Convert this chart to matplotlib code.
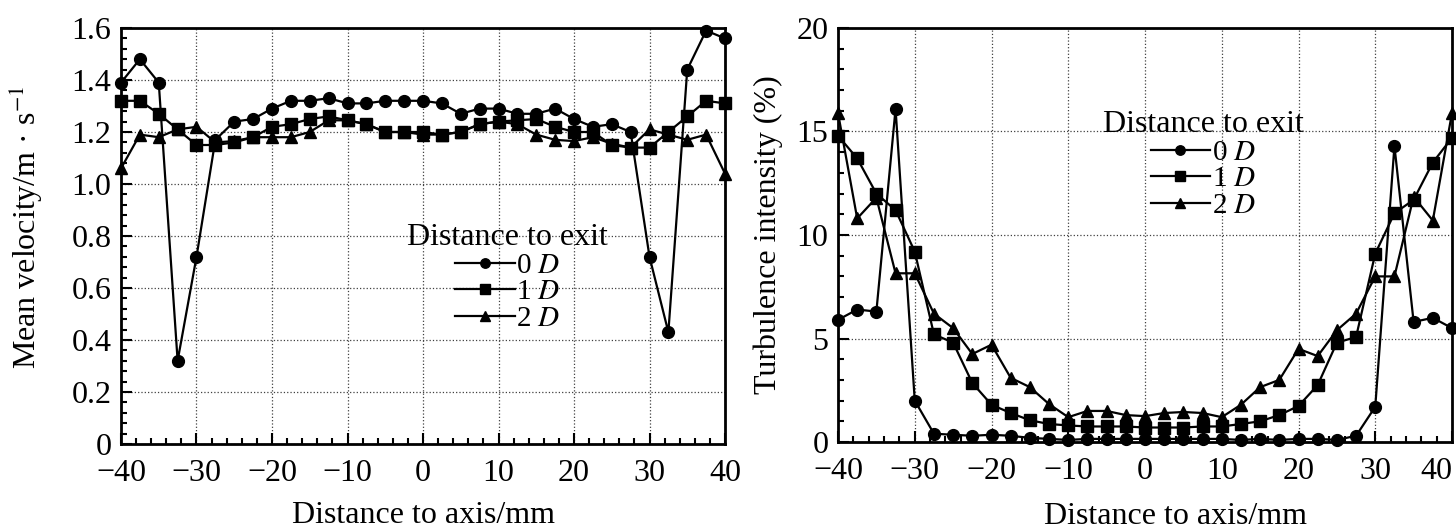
import matplotlib
matplotlib.use("Agg")
import matplotlib.pyplot as plt
from matplotlib.ticker import MultipleLocator

plt.rcParams['font.family'] = ['Liberation Serif', 'DejaVu Serif']
plt.rcParams['mathtext.fontset'] = 'stix'

# distance to axis (mm), same stations for both panels
x_mm = [-40, -37.5, -35, -32.5, -30, -27.5, -25, -22.5, -20, -17.5, -15, -12.5,
        -10, -7.5, -5, -2.5, 0, 2.5, 5, 7.5, 10, 12.5, 15, 17.5, 20, 22.5,
        25, 27.5, 30, 32.5, 35, 37.5, 40]

# mean velocity, m/s
vel_0D = [1.39, 1.48, 1.39, 0.32, 0.72, 1.17, 1.24, 1.25, 1.29, 1.32, 1.32, 1.33,
          1.31, 1.31, 1.32, 1.32, 1.32, 1.31, 1.27, 1.29, 1.29, 1.27, 1.27, 1.29,
          1.25, 1.22, 1.23, 1.20, 0.72, 0.43, 1.44, 1.59, 1.56]
vel_1D = [1.32, 1.32, 1.27, 1.21, 1.15, 1.15, 1.16, 1.18, 1.22, 1.23, 1.25, 1.26,
          1.245, 1.23, 1.20, 1.20, 1.20, 1.19, 1.20, 1.23, 1.24, 1.245, 1.25, 1.22,
          1.20, 1.20, 1.15, 1.14, 1.14, 1.20, 1.26, 1.32, 1.31]
vel_2D = [1.06, 1.19, 1.18, 1.21, 1.22, 1.16, 1.165, 1.18, 1.18, 1.18, 1.20, 1.245,
          1.245, 1.23, 1.20, 1.20, 1.19, 1.19, 1.20, 1.23, 1.24, 1.23, 1.19, 1.17,
          1.165, 1.18, 1.155, 1.14, 1.21, 1.19, 1.17, 1.19, 1.04]

# turbulence intensity, %
ti_0D = [5.9, 6.4, 6.3, 16.1, 2.0, 0.4, 0.35, 0.3, 0.35, 0.3, 0.2, 0.15,
         0.1, 0.15, 0.15, 0.15, 0.15, 0.15, 0.15, 0.15, 0.15, 0.1, 0.15, 0.1,
         0.15, 0.15, 0.1, 0.3, 1.7, 14.3, 5.8, 6.0, 5.5]
ti_1D = [14.8, 13.7, 12.0, 11.2, 9.2, 5.2, 4.8, 2.85, 1.8, 1.4, 1.05, 0.87,
         0.8, 0.75, 0.75, 0.75, 0.7, 0.7, 0.7, 0.75, 0.75, 0.87, 1.0, 1.3,
         1.74, 2.75, 4.8, 5.07, 9.1, 11.05, 11.7, 13.5, 14.7]
ti_2D = [15.9, 10.8, 11.8, 8.15, 8.15, 6.2, 5.5, 4.25, 4.7, 3.1, 2.65, 1.83,
         1.2, 1.5, 1.5, 1.3, 1.25, 1.4, 1.45, 1.4, 1.2, 1.8, 2.65, 3.0,
         4.5, 4.15, 5.4, 6.2, 8.0, 8.0, 11.85, 10.7, 15.9]

labels = ['0 $D$', '1 $D$', '2 $D$']
markers = ['o', 's', '^']
x_ticks = [-40, -30, -20, -10, 0, 10, 20, 30, 40]
x_ticklabels = ['\u221240', '\u221230', '\u221220', '\u221210', '0', '10', '20', '30', '40']
FS = 23


def style_axes(ax):
    for sp in ax.spines.values():
        sp.set_linewidth(2.0)
    ax.tick_params(which='both', direction='in', top=False, right=False,
                   labelsize=FS, width=1.5)
    ax.tick_params(which='major', length=8, pad=7)
    ax.tick_params(axis='x', which='major', pad=11)
    ax.tick_params(which='minor', length=4.5)
    ax.grid(True, which='major', linestyle=':', linewidth=0.9, color='0.25')
    ax.set_axisbelow(True)
    # keep the y "0" just clear of the first x label
    ax.get_yticklabels()[0].set_verticalalignment('center_baseline')


def draw_series(ax, series):
    for ys, m, lab in zip(series, markers, labels):
        ax.plot(x_mm, ys, color='black', linewidth=1.6, marker=m,
                markersize=8.5, label=lab, clip_on=False, zorder=3)


def add_legend(ax, anchor):
    ax.legend(title='Distance to exit', loc='center', bbox_to_anchor=anchor,
              frameon=False, fontsize=21, title_fontsize=FS, handlelength=2.05,
              handletextpad=0.05, labelspacing=0.0, borderpad=0, borderaxespad=0,
              markerscale=0.8)


fig = plt.figure(figsize=(14.56, 5.30), dpi=100)
ax1 = fig.add_axes([121/1456, 1-444/530, 604/1456, 416/530])
ax2 = fig.add_axes([838/1456, 1-442/530, 614/1456, 414/530])

# left panel: mean velocity
draw_series(ax1, [vel_0D, vel_1D, vel_2D])
ax1.set_xlim(-40, 40)
ax1.set_ylim(0, 1.6)
ax1.xaxis.set_minor_locator(MultipleLocator(2))
ax1.yaxis.set_minor_locator(MultipleLocator(0.04))
ax1.set_yticks([0, 0.2, 0.4, 0.6, 0.8, 1.0, 1.2, 1.4, 1.6],
               ['0', '0.2', '0.4', '0.6', '0.8', '1.0', '1.2', '1.4', '1.6'])
ax1.set_xticks(x_ticks, x_ticklabels)
style_axes(ax1)
ax1.set_xlabel('Distance to axis/mm', fontsize=FS)
ax1.set_ylabel('Mean velocity/m \u00b7 s$^{-1}$', fontsize=FS)
ax1.xaxis.set_label_coords(0.50, -0.171)
ax1.xaxis.label.set_verticalalignment('center')
ax1.yaxis.set_label_coords(-0.158, 0.52)
ax1.yaxis.label.set_verticalalignment('center')
add_legend(ax1, (0.64, 0.40))

# right panel: turbulence intensity
draw_series(ax2, [ti_0D, ti_1D, ti_2D])
ax2.set_xlim(-40, 40)
ax2.set_ylim(0, 20)
ax2.xaxis.set_minor_locator(MultipleLocator(2))
ax2.yaxis.set_minor_locator(MultipleLocator(1))
ax2.set_yticks([0, 5, 10, 15, 20])
ax2.set_xticks(x_ticks, x_ticklabels)
style_axes(ax2)
ax2.get_xticklabels()[-1].set_horizontalalignment('right')
ax2.set_xlabel('Distance to axis/mm', fontsize=FS)
ax2.set_ylabel('Turbulence intensity (%)', fontsize=FS)
ax2.xaxis.set_label_coords(0.55, -0.181)
ax2.xaxis.label.set_verticalalignment('center')
ax2.yaxis.set_label_coords(-0.114, 0.5)
ax2.yaxis.label.set_verticalalignment('center')
add_legend(ax2, (0.595, 0.67))

fig.savefig('out.png', dpi=100)
